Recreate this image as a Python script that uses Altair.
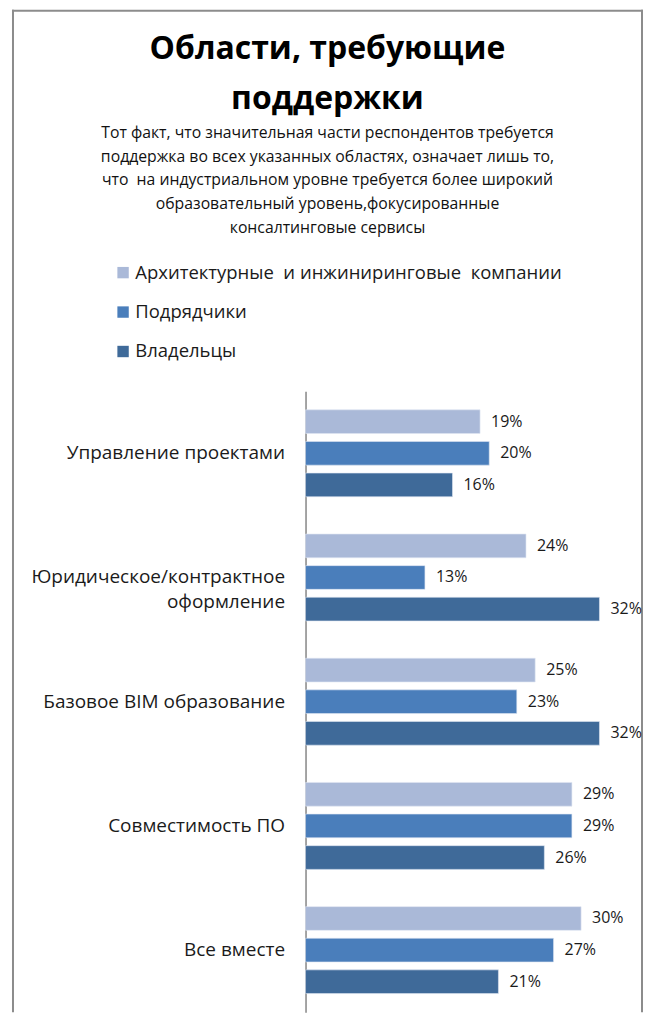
import altair as alt
import pandas as pd

NB = "\u00a0"
categories = [
    "Управление проектами",
    "Юридическое/контрактное\nоформление",
    "Базовое BIM образование",
    "Совместимость ПО",
    "Все вместе",
]
series = [f"Архитектурные {NB}и инжиниринговые {NB}компании", "Подрядчики", "Владельцы"]
arch = [19, 24, 25, 29, 30]
contractors = [20, 13, 23, 29, 27]
owners = [16, 32, 32, 26, 21]
colors = ["#AAB9D8", "#4A7EBB", "#3F6A99"]

title_lines = ["Области, требующие", "поддержки"]
subtitle_lines = [
    "Тот факт, что значительная части респондентов требуется",
    "поддержка во всех указанных областях, означает лишь то,",
    f"что {NB}на индустриальном уровне требуется более широкий",
    "образовательный уровень,фокусированные",
    "консалтинговые сервисы",
]

rows = []
for i, c in enumerate(categories):
    for s, vals in zip(series, [arch, contractors, owners]):
        rows.append({"cat": c, "series": s, "value": vals[i], "label": f"{vals[i]}%"})
df = pd.DataFrame(rows)

FONT = "Open Sans"
TXT = "#1a1a1a"
FRAME = "#8c8c8c"

y_enc = alt.Y(
    "cat:N",
    sort=categories,
    scale=alt.Scale(paddingInner=0.3, paddingOuter=0.15),
    axis=alt.Axis(
        title=None,
        ticks=False,
        labelPadding=21,
        labelFontSize=19,
        labelFont=FONT,
        labelColor=TXT,
        labelAlign="right",
        labelLineHeight=25,
        labelLimit=320,
        labelExpr="split(datum.label, '\\n')",
        domainColor="#868686",
        domainWidth=1.5,
    ),
)
yoff = alt.YOffset("series:N", sort=series, scale=alt.Scale(paddingInner=0.25, paddingOuter=0))
x_enc = alt.X("value:Q", scale=alt.Scale(domain=[0, 35]), axis=None)

base = alt.Chart(df)

bars = base.mark_bar(stroke="#dfe6f2", strokeWidth=0.6).encode(
    x=x_enc,
    y=y_enc,
    yOffset=yoff,
    color=alt.Color(
        "series:N",
        sort=series,
        scale=alt.Scale(domain=series, range=colors),
        legend=alt.Legend(
            orient="none",
            legendX=-192,
            legendY=-128,
            direction="vertical",
            title=None,
            symbolType="square",
            symbolSize=130,
            symbolStrokeWidth=0,
            labelFontSize=18.5,
            labelFont=FONT,
            labelColor=TXT,
            labelOffset=3,
            rowPadding=20.5,
            labelLimit=600,
        ),
    ),
)

labels = base.mark_text(align="left", baseline="middle", dx=11, fontSize=16, font=FONT, color=TXT).encode(
    x=x_enc, y=alt.Y("cat:N", sort=categories), yOffset=yoff, text="label:N"
)

one = pd.DataFrame({"frame": [0]})
frame_top = alt.Chart(one).mark_rule(stroke=FRAME, strokeWidth=2).encode(
    x=alt.value(-294), x2=alt.value(338), y=alt.value(-381)
)
frame_left = alt.Chart(one).mark_rule(stroke=FRAME, strokeWidth=2).encode(
    x=alt.value(-293), y=alt.value(-382), y2=alt.value(622)
)
frame_right = alt.Chart(one).mark_rule(stroke=FRAME, strokeWidth=2).encode(
    x=alt.value(337), y=alt.value(-382), y2=alt.value(622)
)

chart = alt.layer(frame_top, frame_left, frame_right, bars, labels).properties(
    width=322,
    height=622,
    padding={"left": 3, "top": 0, "right": 0, "bottom": 0},
    title=alt.TitleParams(
        text=title_lines,
        subtitle=subtitle_lines,
        font=FONT,
        fontSize=32,
        fontWeight="bold",
        lineHeight=50,
        color="#000000",
        subtitleFont=FONT,
        subtitleFontSize=15.8,
        subtitleLineHeight=23.7,
        subtitleColor="#111111",
        subtitlePadding=10,
        anchor="middle",
        frame="bounds",
        offset=-228,
    ),
).configure_view(strokeWidth=0)

chart.save("out.html", embed_options={"renderer": "svg", "actions": False})
